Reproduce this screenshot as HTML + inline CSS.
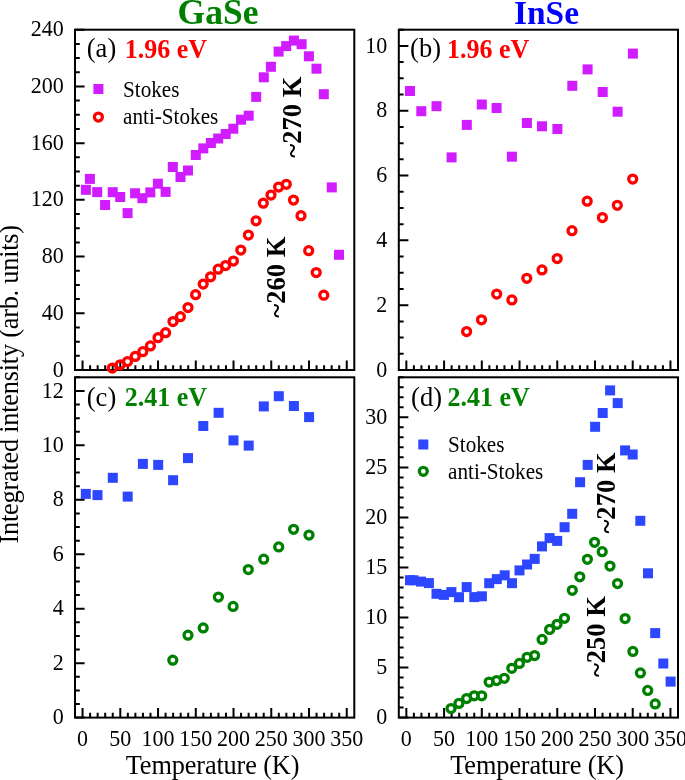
<!DOCTYPE html>
<html><head><meta charset="utf-8"><style>
html,body{margin:0;padding:0;background:#fff;}
body{width:685px;height:780px;overflow:hidden;}
svg{display:block;will-change:transform;}
text{font-family:"Liberation Serif",serif;}
</style></head><body>
<svg width="685" height="780" viewBox="0 0 685 780">
<rect width="685" height="780" fill="#fff"/>
<path d="M75.00,370.00h9.6M75.00,313.28h9.6M75.00,256.57h9.6M75.00,199.85h9.6M75.00,143.13h9.6M75.00,86.42h9.6M75.00,29.70h9.6M75.00,355.82h4.8M75.00,341.64h4.8M75.00,327.46h4.8M75.00,299.10h4.8M75.00,284.93h4.8M75.00,270.75h4.8M75.00,242.39h4.8M75.00,228.21h4.8M75.00,214.03h4.8M75.00,185.67h4.8M75.00,171.49h4.8M75.00,157.31h4.8M75.00,128.95h4.8M75.00,114.77h4.8M75.00,100.60h4.8M75.00,72.24h4.8M75.00,58.06h4.8M75.00,43.88h4.8M82.55,370.00v-9.6M120.29,370.00v-9.6M158.04,370.00v-9.6M195.78,370.00v-9.6M233.52,370.00v-9.6M271.26,370.00v-9.6M309.01,370.00v-9.6M346.75,370.00v-9.6M90.10,370.00v-4.8M97.65,370.00v-4.8M105.19,370.00v-4.8M112.74,370.00v-4.8M127.84,370.00v-4.8M135.39,370.00v-4.8M142.94,370.00v-4.8M150.49,370.00v-4.8M165.58,370.00v-4.8M173.13,370.00v-4.8M180.68,370.00v-4.8M188.23,370.00v-4.8M203.33,370.00v-4.8M210.88,370.00v-4.8M218.42,370.00v-4.8M225.97,370.00v-4.8M241.07,370.00v-4.8M248.62,370.00v-4.8M256.17,370.00v-4.8M263.72,370.00v-4.8M278.81,370.00v-4.8M286.36,370.00v-4.8M293.91,370.00v-4.8M301.46,370.00v-4.8M316.56,370.00v-4.8M324.11,370.00v-4.8M331.65,370.00v-4.8M339.20,370.00v-4.8" stroke="#000" stroke-width="2.0" fill="none"/>
<rect x="75.00" y="29.70" width="279.30" height="340.30" fill="none" stroke="#000" stroke-width="2.0"/>
<text transform="translate(63.80,319.88) scale(1,1.06)" font-size="22" text-anchor="end">40</text>
<text transform="translate(63.80,263.17) scale(1,1.06)" font-size="22" text-anchor="end">80</text>
<text transform="translate(63.80,206.45) scale(1,1.06)" font-size="22" text-anchor="end">120</text>
<text transform="translate(63.80,149.73) scale(1,1.06)" font-size="22" text-anchor="end">160</text>
<text transform="translate(63.80,93.02) scale(1,1.06)" font-size="22" text-anchor="end">200</text>
<text transform="translate(63.80,36.30) scale(1,1.06)" font-size="22" text-anchor="end">240</text>
<text transform="translate(63.80,376.60) scale(1,1.06)" font-size="22" text-anchor="end">0</text>
<path d="M75.00,717.60h9.6M75.00,663.15h9.6M75.00,608.70h9.6M75.00,554.26h9.6M75.00,499.81h9.6M75.00,445.36h9.6M75.00,390.91h9.6M75.00,703.99h4.8M75.00,690.38h4.8M75.00,676.76h4.8M75.00,649.54h4.8M75.00,635.93h4.8M75.00,622.32h4.8M75.00,595.09h4.8M75.00,581.48h4.8M75.00,567.87h4.8M75.00,540.64h4.8M75.00,527.03h4.8M75.00,513.42h4.8M75.00,486.20h4.8M75.00,472.58h4.8M75.00,458.97h4.8M75.00,431.75h4.8M75.00,418.14h4.8M75.00,404.52h4.8M75.00,377.30h4.8M82.55,717.60v-9.6M120.29,717.60v-9.6M158.04,717.60v-9.6M195.78,717.60v-9.6M233.52,717.60v-9.6M271.26,717.60v-9.6M309.01,717.60v-9.6M346.75,717.60v-9.6M90.10,717.60v-4.8M97.65,717.60v-4.8M105.19,717.60v-4.8M112.74,717.60v-4.8M127.84,717.60v-4.8M135.39,717.60v-4.8M142.94,717.60v-4.8M150.49,717.60v-4.8M165.58,717.60v-4.8M173.13,717.60v-4.8M180.68,717.60v-4.8M188.23,717.60v-4.8M203.33,717.60v-4.8M210.88,717.60v-4.8M218.42,717.60v-4.8M225.97,717.60v-4.8M241.07,717.60v-4.8M248.62,717.60v-4.8M256.17,717.60v-4.8M263.72,717.60v-4.8M278.81,717.60v-4.8M286.36,717.60v-4.8M293.91,717.60v-4.8M301.46,717.60v-4.8M316.56,717.60v-4.8M324.11,717.60v-4.8M331.65,717.60v-4.8M339.20,717.60v-4.8" stroke="#000" stroke-width="2.0" fill="none"/>
<rect x="75.00" y="377.30" width="279.30" height="340.30" fill="none" stroke="#000" stroke-width="2.0"/>
<text transform="translate(63.80,724.20) scale(1,1.06)" font-size="22" text-anchor="end">0</text>
<text transform="translate(63.80,669.75) scale(1,1.06)" font-size="22" text-anchor="end">2</text>
<text transform="translate(63.80,615.30) scale(1,1.06)" font-size="22" text-anchor="end">4</text>
<text transform="translate(63.80,560.86) scale(1,1.06)" font-size="22" text-anchor="end">6</text>
<text transform="translate(63.80,506.41) scale(1,1.06)" font-size="22" text-anchor="end">8</text>
<text transform="translate(63.80,451.96) scale(1,1.06)" font-size="22" text-anchor="end">10</text>
<text transform="translate(63.80,397.51) scale(1,1.06)" font-size="22" text-anchor="end">12</text>
<text transform="translate(82.55,745.80) scale(1,1.06)" font-size="22" text-anchor="middle">0</text>
<text transform="translate(120.29,745.80) scale(1,1.06)" font-size="22" text-anchor="middle">50</text>
<text transform="translate(158.04,745.80) scale(1,1.06)" font-size="22" text-anchor="middle">100</text>
<text transform="translate(195.78,745.80) scale(1,1.06)" font-size="22" text-anchor="middle">150</text>
<text transform="translate(233.52,745.80) scale(1,1.06)" font-size="22" text-anchor="middle">200</text>
<text transform="translate(271.26,745.80) scale(1,1.06)" font-size="22" text-anchor="middle">250</text>
<text transform="translate(309.01,745.80) scale(1,1.06)" font-size="22" text-anchor="middle">300</text>
<text transform="translate(346.75,745.80) scale(1,1.06)" font-size="22" text-anchor="middle">350</text>
<path d="M398.80,370.00h9.6M398.80,305.18h9.6M398.80,240.36h9.6M398.80,175.54h9.6M398.80,110.72h9.6M398.80,45.90h9.6M398.80,353.80h4.8M398.80,337.59h4.8M398.80,321.39h4.8M398.80,288.98h4.8M398.80,272.77h4.8M398.80,256.57h4.8M398.80,224.16h4.8M398.80,207.95h4.8M398.80,191.75h4.8M398.80,159.34h4.8M398.80,143.13h4.8M398.80,126.93h4.8M398.80,94.52h4.8M398.80,78.31h4.8M398.80,62.11h4.8M398.80,29.70h4.8M406.35,370.00v-9.6M444.08,370.00v-9.6M481.81,370.00v-9.6M519.54,370.00v-9.6M557.26,370.00v-9.6M594.99,370.00v-9.6M632.72,370.00v-9.6M670.45,370.00v-9.6M413.89,370.00v-4.8M421.44,370.00v-4.8M428.98,370.00v-4.8M436.53,370.00v-4.8M451.62,370.00v-4.8M459.17,370.00v-4.8M466.71,370.00v-4.8M474.26,370.00v-4.8M489.35,370.00v-4.8M496.90,370.00v-4.8M504.44,370.00v-4.8M511.99,370.00v-4.8M527.08,370.00v-4.8M534.63,370.00v-4.8M542.17,370.00v-4.8M549.72,370.00v-4.8M564.81,370.00v-4.8M572.36,370.00v-4.8M579.90,370.00v-4.8M587.45,370.00v-4.8M602.54,370.00v-4.8M610.09,370.00v-4.8M617.63,370.00v-4.8M625.18,370.00v-4.8M640.27,370.00v-4.8M647.82,370.00v-4.8M655.36,370.00v-4.8M662.91,370.00v-4.8" stroke="#000" stroke-width="2.0" fill="none"/>
<rect x="398.80" y="29.70" width="279.20" height="340.30" fill="none" stroke="#000" stroke-width="2.0"/>
<text transform="translate(387.30,376.60) scale(1,1.06)" font-size="22" text-anchor="end">0</text>
<text transform="translate(387.30,311.78) scale(1,1.06)" font-size="22" text-anchor="end">2</text>
<text transform="translate(387.30,246.96) scale(1,1.06)" font-size="22" text-anchor="end">4</text>
<text transform="translate(387.30,182.14) scale(1,1.06)" font-size="22" text-anchor="end">6</text>
<text transform="translate(387.30,117.32) scale(1,1.06)" font-size="22" text-anchor="end">8</text>
<text transform="translate(387.30,52.50) scale(1,1.06)" font-size="22" text-anchor="end">10</text>
<path d="M398.80,717.60h9.6M398.80,667.56h9.6M398.80,617.51h9.6M398.80,567.47h9.6M398.80,517.42h9.6M398.80,467.38h9.6M398.80,417.34h9.6M398.80,707.59h4.8M398.80,697.58h4.8M398.80,687.57h4.8M398.80,677.56h4.8M398.80,657.55h4.8M398.80,647.54h4.8M398.80,637.53h4.8M398.80,627.52h4.8M398.80,607.50h4.8M398.80,597.49h4.8M398.80,587.49h4.8M398.80,577.48h4.8M398.80,557.46h4.8M398.80,547.45h4.8M398.80,537.44h4.8M398.80,527.43h4.8M398.80,507.41h4.8M398.80,497.41h4.8M398.80,487.40h4.8M398.80,477.39h4.8M398.80,457.37h4.8M398.80,447.36h4.8M398.80,437.35h4.8M398.80,427.34h4.8M398.80,407.33h4.8M398.80,397.32h4.8M398.80,387.31h4.8M398.80,377.30h4.8M406.35,717.60v-9.6M444.08,717.60v-9.6M481.81,717.60v-9.6M519.54,717.60v-9.6M557.26,717.60v-9.6M594.99,717.60v-9.6M632.72,717.60v-9.6M670.45,717.60v-9.6M413.89,717.60v-4.8M421.44,717.60v-4.8M428.98,717.60v-4.8M436.53,717.60v-4.8M451.62,717.60v-4.8M459.17,717.60v-4.8M466.71,717.60v-4.8M474.26,717.60v-4.8M489.35,717.60v-4.8M496.90,717.60v-4.8M504.44,717.60v-4.8M511.99,717.60v-4.8M527.08,717.60v-4.8M534.63,717.60v-4.8M542.17,717.60v-4.8M549.72,717.60v-4.8M564.81,717.60v-4.8M572.36,717.60v-4.8M579.90,717.60v-4.8M587.45,717.60v-4.8M602.54,717.60v-4.8M610.09,717.60v-4.8M617.63,717.60v-4.8M625.18,717.60v-4.8M640.27,717.60v-4.8M647.82,717.60v-4.8M655.36,717.60v-4.8M662.91,717.60v-4.8" stroke="#000" stroke-width="2.0" fill="none"/>
<rect x="398.80" y="377.30" width="279.20" height="340.30" fill="none" stroke="#000" stroke-width="2.0"/>
<text transform="translate(387.30,724.20) scale(1,1.06)" font-size="22" text-anchor="end">0</text>
<text transform="translate(387.30,674.16) scale(1,1.06)" font-size="22" text-anchor="end">5</text>
<text transform="translate(387.30,624.11) scale(1,1.06)" font-size="22" text-anchor="end">10</text>
<text transform="translate(387.30,574.07) scale(1,1.06)" font-size="22" text-anchor="end">15</text>
<text transform="translate(387.30,524.02) scale(1,1.06)" font-size="22" text-anchor="end">20</text>
<text transform="translate(387.30,473.98) scale(1,1.06)" font-size="22" text-anchor="end">25</text>
<text transform="translate(387.30,423.94) scale(1,1.06)" font-size="22" text-anchor="end">30</text>
<text transform="translate(406.35,745.80) scale(1,1.06)" font-size="22" text-anchor="middle">0</text>
<text transform="translate(444.08,745.80) scale(1,1.06)" font-size="22" text-anchor="middle">50</text>
<text transform="translate(481.81,745.80) scale(1,1.06)" font-size="22" text-anchor="middle">100</text>
<text transform="translate(519.54,745.80) scale(1,1.06)" font-size="22" text-anchor="middle">150</text>
<text transform="translate(557.26,745.80) scale(1,1.06)" font-size="22" text-anchor="middle">200</text>
<text transform="translate(594.99,745.80) scale(1,1.06)" font-size="22" text-anchor="middle">250</text>
<text transform="translate(632.72,745.80) scale(1,1.06)" font-size="22" text-anchor="middle">300</text>
<text transform="translate(670.45,745.80) scale(1,1.06)" font-size="22" text-anchor="middle">350</text>
<rect x="80.90" y="184.80" width="10.0" height="10.0" fill="#D01CFF"/>
<rect x="84.90" y="173.90" width="10.0" height="10.0" fill="#D01CFF"/>
<rect x="92.20" y="187.10" width="10.0" height="10.0" fill="#D01CFF"/>
<rect x="100.10" y="200.00" width="10.0" height="10.0" fill="#D01CFF"/>
<rect x="107.70" y="187.20" width="10.0" height="10.0" fill="#D01CFF"/>
<rect x="115.20" y="192.00" width="10.0" height="10.0" fill="#D01CFF"/>
<rect x="122.60" y="208.10" width="10.0" height="10.0" fill="#D01CFF"/>
<rect x="130.10" y="188.30" width="10.0" height="10.0" fill="#D01CFF"/>
<rect x="137.40" y="193.20" width="10.0" height="10.0" fill="#D01CFF"/>
<rect x="145.30" y="187.40" width="10.0" height="10.0" fill="#D01CFF"/>
<rect x="152.90" y="178.70" width="10.0" height="10.0" fill="#D01CFF"/>
<rect x="160.60" y="186.90" width="10.0" height="10.0" fill="#D01CFF"/>
<rect x="167.80" y="162.00" width="10.0" height="10.0" fill="#D01CFF"/>
<rect x="175.50" y="172.00" width="10.0" height="10.0" fill="#D01CFF"/>
<rect x="183.00" y="165.50" width="10.0" height="10.0" fill="#D01CFF"/>
<rect x="190.80" y="150.00" width="10.0" height="10.0" fill="#D01CFF"/>
<rect x="198.30" y="143.40" width="10.0" height="10.0" fill="#D01CFF"/>
<rect x="205.90" y="138.00" width="10.0" height="10.0" fill="#D01CFF"/>
<rect x="213.20" y="133.50" width="10.0" height="10.0" fill="#D01CFF"/>
<rect x="220.70" y="129.00" width="10.0" height="10.0" fill="#D01CFF"/>
<rect x="228.30" y="123.70" width="10.0" height="10.0" fill="#D01CFF"/>
<rect x="236.00" y="114.70" width="10.0" height="10.0" fill="#D01CFF"/>
<rect x="243.70" y="110.70" width="10.0" height="10.0" fill="#D01CFF"/>
<rect x="251.20" y="91.90" width="10.0" height="10.0" fill="#D01CFF"/>
<rect x="258.80" y="72.30" width="10.0" height="10.0" fill="#D01CFF"/>
<rect x="265.90" y="61.80" width="10.0" height="10.0" fill="#D01CFF"/>
<rect x="273.60" y="46.60" width="10.0" height="10.0" fill="#D01CFF"/>
<rect x="281.20" y="41.10" width="10.0" height="10.0" fill="#D01CFF"/>
<rect x="288.90" y="35.60" width="10.0" height="10.0" fill="#D01CFF"/>
<rect x="296.60" y="39.20" width="10.0" height="10.0" fill="#D01CFF"/>
<rect x="303.90" y="51.30" width="10.0" height="10.0" fill="#D01CFF"/>
<rect x="311.50" y="63.70" width="10.0" height="10.0" fill="#D01CFF"/>
<rect x="318.80" y="89.20" width="10.0" height="10.0" fill="#D01CFF"/>
<rect x="326.80" y="182.40" width="10.0" height="10.0" fill="#D01CFF"/>
<rect x="334.00" y="249.80" width="10.0" height="10.0" fill="#D01CFF"/>
<circle cx="112.30" cy="368.00" r="4.0" fill="none" stroke="#FF0000" stroke-width="3.25"/>
<circle cx="120.20" cy="364.80" r="4.0" fill="none" stroke="#FF0000" stroke-width="3.25"/>
<circle cx="127.50" cy="361.60" r="4.0" fill="none" stroke="#FF0000" stroke-width="3.25"/>
<circle cx="135.20" cy="356.40" r="4.0" fill="none" stroke="#FF0000" stroke-width="3.25"/>
<circle cx="142.80" cy="351.70" r="4.0" fill="none" stroke="#FF0000" stroke-width="3.25"/>
<circle cx="150.40" cy="345.90" r="4.0" fill="none" stroke="#FF0000" stroke-width="3.25"/>
<circle cx="158.00" cy="337.70" r="4.0" fill="none" stroke="#FF0000" stroke-width="3.25"/>
<circle cx="165.60" cy="332.70" r="4.0" fill="none" stroke="#FF0000" stroke-width="3.25"/>
<circle cx="173.00" cy="321.50" r="4.0" fill="none" stroke="#FF0000" stroke-width="3.25"/>
<circle cx="180.40" cy="316.70" r="4.0" fill="none" stroke="#FF0000" stroke-width="3.25"/>
<circle cx="188.00" cy="307.50" r="4.0" fill="none" stroke="#FF0000" stroke-width="3.25"/>
<circle cx="195.60" cy="294.70" r="4.0" fill="none" stroke="#FF0000" stroke-width="3.25"/>
<circle cx="203.20" cy="284.10" r="4.0" fill="none" stroke="#FF0000" stroke-width="3.25"/>
<circle cx="210.60" cy="276.80" r="4.0" fill="none" stroke="#FF0000" stroke-width="3.25"/>
<circle cx="218.20" cy="269.20" r="4.0" fill="none" stroke="#FF0000" stroke-width="3.25"/>
<circle cx="225.60" cy="265.50" r="4.0" fill="none" stroke="#FF0000" stroke-width="3.25"/>
<circle cx="233.40" cy="261.00" r="4.0" fill="none" stroke="#FF0000" stroke-width="3.25"/>
<circle cx="240.80" cy="250.00" r="4.0" fill="none" stroke="#FF0000" stroke-width="3.25"/>
<circle cx="248.40" cy="235.10" r="4.0" fill="none" stroke="#FF0000" stroke-width="3.25"/>
<circle cx="256.10" cy="220.80" r="4.0" fill="none" stroke="#FF0000" stroke-width="3.25"/>
<circle cx="263.30" cy="203.20" r="4.0" fill="none" stroke="#FF0000" stroke-width="3.25"/>
<circle cx="271.00" cy="195.10" r="4.0" fill="none" stroke="#FF0000" stroke-width="3.25"/>
<circle cx="278.60" cy="187.00" r="4.0" fill="none" stroke="#FF0000" stroke-width="3.25"/>
<circle cx="286.30" cy="184.30" r="4.0" fill="none" stroke="#FF0000" stroke-width="3.25"/>
<circle cx="293.50" cy="200.10" r="4.0" fill="none" stroke="#FF0000" stroke-width="3.25"/>
<circle cx="301.00" cy="215.70" r="4.0" fill="none" stroke="#FF0000" stroke-width="3.25"/>
<circle cx="308.70" cy="250.70" r="4.0" fill="none" stroke="#FF0000" stroke-width="3.25"/>
<circle cx="316.20" cy="272.60" r="4.0" fill="none" stroke="#FF0000" stroke-width="3.25"/>
<circle cx="323.80" cy="295.20" r="4.0" fill="none" stroke="#FF0000" stroke-width="3.25"/>
<rect x="405.00" y="86.00" width="10.0" height="10.0" fill="#D01CFF"/>
<rect x="416.30" y="106.20" width="10.0" height="10.0" fill="#D01CFF"/>
<rect x="431.50" y="101.20" width="10.0" height="10.0" fill="#D01CFF"/>
<rect x="446.60" y="152.40" width="10.0" height="10.0" fill="#D01CFF"/>
<rect x="461.80" y="119.90" width="10.0" height="10.0" fill="#D01CFF"/>
<rect x="476.80" y="99.50" width="10.0" height="10.0" fill="#D01CFF"/>
<rect x="491.60" y="103.00" width="10.0" height="10.0" fill="#D01CFF"/>
<rect x="506.90" y="151.70" width="10.0" height="10.0" fill="#D01CFF"/>
<rect x="521.90" y="118.00" width="10.0" height="10.0" fill="#D01CFF"/>
<rect x="537.00" y="121.30" width="10.0" height="10.0" fill="#D01CFF"/>
<rect x="552.40" y="124.00" width="10.0" height="10.0" fill="#D01CFF"/>
<rect x="567.30" y="80.80" width="10.0" height="10.0" fill="#D01CFF"/>
<rect x="582.60" y="64.40" width="10.0" height="10.0" fill="#D01CFF"/>
<rect x="597.70" y="87.00" width="10.0" height="10.0" fill="#D01CFF"/>
<rect x="612.60" y="106.70" width="10.0" height="10.0" fill="#D01CFF"/>
<rect x="627.90" y="48.60" width="10.0" height="10.0" fill="#D01CFF"/>
<circle cx="466.60" cy="331.50" r="4.0" fill="none" stroke="#FF0000" stroke-width="3.25"/>
<circle cx="481.50" cy="319.80" r="4.0" fill="none" stroke="#FF0000" stroke-width="3.25"/>
<circle cx="496.70" cy="294.10" r="4.0" fill="none" stroke="#FF0000" stroke-width="3.25"/>
<circle cx="511.90" cy="299.90" r="4.0" fill="none" stroke="#FF0000" stroke-width="3.25"/>
<circle cx="526.80" cy="278.30" r="4.0" fill="none" stroke="#FF0000" stroke-width="3.25"/>
<circle cx="542.00" cy="269.90" r="4.0" fill="none" stroke="#FF0000" stroke-width="3.25"/>
<circle cx="557.20" cy="258.50" r="4.0" fill="none" stroke="#FF0000" stroke-width="3.25"/>
<circle cx="572.00" cy="230.70" r="4.0" fill="none" stroke="#FF0000" stroke-width="3.25"/>
<circle cx="587.20" cy="201.20" r="4.0" fill="none" stroke="#FF0000" stroke-width="3.25"/>
<circle cx="602.40" cy="217.60" r="4.0" fill="none" stroke="#FF0000" stroke-width="3.25"/>
<circle cx="617.30" cy="205.30" r="4.0" fill="none" stroke="#FF0000" stroke-width="3.25"/>
<circle cx="632.70" cy="179.00" r="4.0" fill="none" stroke="#FF0000" stroke-width="3.25"/>
<rect x="80.80" y="488.90" width="10.0" height="10.0" fill="#2D46FF"/>
<rect x="92.50" y="490.10" width="10.0" height="10.0" fill="#2D46FF"/>
<rect x="107.80" y="472.80" width="10.0" height="10.0" fill="#2D46FF"/>
<rect x="122.70" y="491.60" width="10.0" height="10.0" fill="#2D46FF"/>
<rect x="137.90" y="458.90" width="10.0" height="10.0" fill="#2D46FF"/>
<rect x="153.20" y="459.90" width="10.0" height="10.0" fill="#2D46FF"/>
<rect x="168.10" y="475.20" width="10.0" height="10.0" fill="#2D46FF"/>
<rect x="183.00" y="453.10" width="10.0" height="10.0" fill="#2D46FF"/>
<rect x="198.30" y="421.00" width="10.0" height="10.0" fill="#2D46FF"/>
<rect x="213.60" y="407.80" width="10.0" height="10.0" fill="#2D46FF"/>
<rect x="228.50" y="435.40" width="10.0" height="10.0" fill="#2D46FF"/>
<rect x="243.70" y="440.60" width="10.0" height="10.0" fill="#2D46FF"/>
<rect x="258.80" y="401.40" width="10.0" height="10.0" fill="#2D46FF"/>
<rect x="273.80" y="391.20" width="10.0" height="10.0" fill="#2D46FF"/>
<rect x="288.90" y="401.00" width="10.0" height="10.0" fill="#2D46FF"/>
<rect x="304.10" y="412.10" width="10.0" height="10.0" fill="#2D46FF"/>
<circle cx="172.80" cy="660.20" r="4.0" fill="none" stroke="#008000" stroke-width="3.25"/>
<circle cx="188.00" cy="635.20" r="4.0" fill="none" stroke="#008000" stroke-width="3.25"/>
<circle cx="203.20" cy="627.90" r="4.0" fill="none" stroke="#008000" stroke-width="3.25"/>
<circle cx="218.40" cy="597.10" r="4.0" fill="none" stroke="#008000" stroke-width="3.25"/>
<circle cx="233.10" cy="606.40" r="4.0" fill="none" stroke="#008000" stroke-width="3.25"/>
<circle cx="248.30" cy="569.50" r="4.0" fill="none" stroke="#008000" stroke-width="3.25"/>
<circle cx="263.70" cy="559.20" r="4.0" fill="none" stroke="#008000" stroke-width="3.25"/>
<circle cx="278.70" cy="546.90" r="4.0" fill="none" stroke="#008000" stroke-width="3.25"/>
<circle cx="293.60" cy="529.30" r="4.0" fill="none" stroke="#008000" stroke-width="3.25"/>
<circle cx="309.00" cy="535.00" r="4.0" fill="none" stroke="#008000" stroke-width="3.25"/>
<rect x="405.00" y="575.20" width="10.0" height="10.0" fill="#2D46FF"/>
<rect x="408.60" y="575.30" width="10.0" height="10.0" fill="#2D46FF"/>
<rect x="416.00" y="576.60" width="10.0" height="10.0" fill="#2D46FF"/>
<rect x="423.90" y="578.10" width="10.0" height="10.0" fill="#2D46FF"/>
<rect x="431.50" y="588.80" width="10.0" height="10.0" fill="#2D46FF"/>
<rect x="438.90" y="589.90" width="10.0" height="10.0" fill="#2D46FF"/>
<rect x="446.40" y="587.10" width="10.0" height="10.0" fill="#2D46FF"/>
<rect x="454.00" y="592.20" width="10.0" height="10.0" fill="#2D46FF"/>
<rect x="461.70" y="582.10" width="10.0" height="10.0" fill="#2D46FF"/>
<rect x="469.30" y="592.10" width="10.0" height="10.0" fill="#2D46FF"/>
<rect x="476.90" y="591.30" width="10.0" height="10.0" fill="#2D46FF"/>
<rect x="484.20" y="578.20" width="10.0" height="10.0" fill="#2D46FF"/>
<rect x="491.80" y="574.10" width="10.0" height="10.0" fill="#2D46FF"/>
<rect x="499.70" y="570.30" width="10.0" height="10.0" fill="#2D46FF"/>
<rect x="507.00" y="578.20" width="10.0" height="10.0" fill="#2D46FF"/>
<rect x="514.50" y="565.40" width="10.0" height="10.0" fill="#2D46FF"/>
<rect x="522.10" y="559.50" width="10.0" height="10.0" fill="#2D46FF"/>
<rect x="529.70" y="553.90" width="10.0" height="10.0" fill="#2D46FF"/>
<rect x="537.00" y="541.40" width="10.0" height="10.0" fill="#2D46FF"/>
<rect x="544.60" y="533.10" width="10.0" height="10.0" fill="#2D46FF"/>
<rect x="552.20" y="535.90" width="10.0" height="10.0" fill="#2D46FF"/>
<rect x="559.60" y="522.20" width="10.0" height="10.0" fill="#2D46FF"/>
<rect x="567.20" y="508.80" width="10.0" height="10.0" fill="#2D46FF"/>
<rect x="575.10" y="477.20" width="10.0" height="10.0" fill="#2D46FF"/>
<rect x="582.70" y="459.90" width="10.0" height="10.0" fill="#2D46FF"/>
<rect x="590.10" y="421.80" width="10.0" height="10.0" fill="#2D46FF"/>
<rect x="597.70" y="408.00" width="10.0" height="10.0" fill="#2D46FF"/>
<rect x="605.10" y="385.40" width="10.0" height="10.0" fill="#2D46FF"/>
<rect x="612.70" y="398.10" width="10.0" height="10.0" fill="#2D46FF"/>
<rect x="620.10" y="445.40" width="10.0" height="10.0" fill="#2D46FF"/>
<rect x="627.70" y="449.50" width="10.0" height="10.0" fill="#2D46FF"/>
<rect x="635.30" y="515.80" width="10.0" height="10.0" fill="#2D46FF"/>
<rect x="643.00" y="568.30" width="10.0" height="10.0" fill="#2D46FF"/>
<rect x="650.20" y="628.10" width="10.0" height="10.0" fill="#2D46FF"/>
<rect x="658.30" y="658.50" width="10.0" height="10.0" fill="#2D46FF"/>
<rect x="665.60" y="676.60" width="10.0" height="10.0" fill="#2D46FF"/>
<circle cx="451.00" cy="708.60" r="4.0" fill="none" stroke="#008000" stroke-width="3.25"/>
<circle cx="458.90" cy="703.40" r="4.0" fill="none" stroke="#008000" stroke-width="3.25"/>
<circle cx="466.60" cy="698.60" r="4.0" fill="none" stroke="#008000" stroke-width="3.25"/>
<circle cx="474.20" cy="695.80" r="4.0" fill="none" stroke="#008000" stroke-width="3.25"/>
<circle cx="481.70" cy="695.80" r="4.0" fill="none" stroke="#008000" stroke-width="3.25"/>
<circle cx="489.10" cy="682.00" r="4.0" fill="none" stroke="#008000" stroke-width="3.25"/>
<circle cx="496.60" cy="680.60" r="4.0" fill="none" stroke="#008000" stroke-width="3.25"/>
<circle cx="504.30" cy="678.30" r="4.0" fill="none" stroke="#008000" stroke-width="3.25"/>
<circle cx="511.80" cy="668.30" r="4.0" fill="none" stroke="#008000" stroke-width="3.25"/>
<circle cx="519.40" cy="663.40" r="4.0" fill="none" stroke="#008000" stroke-width="3.25"/>
<circle cx="527.10" cy="657.30" r="4.0" fill="none" stroke="#008000" stroke-width="3.25"/>
<circle cx="534.60" cy="655.50" r="4.0" fill="none" stroke="#008000" stroke-width="3.25"/>
<circle cx="542.10" cy="639.40" r="4.0" fill="none" stroke="#008000" stroke-width="3.25"/>
<circle cx="549.60" cy="629.40" r="4.0" fill="none" stroke="#008000" stroke-width="3.25"/>
<circle cx="557.00" cy="624.30" r="4.0" fill="none" stroke="#008000" stroke-width="3.25"/>
<circle cx="564.50" cy="618.30" r="4.0" fill="none" stroke="#008000" stroke-width="3.25"/>
<circle cx="572.30" cy="590.30" r="4.0" fill="none" stroke="#008000" stroke-width="3.25"/>
<circle cx="579.80" cy="576.80" r="4.0" fill="none" stroke="#008000" stroke-width="3.25"/>
<circle cx="587.40" cy="559.30" r="4.0" fill="none" stroke="#008000" stroke-width="3.25"/>
<circle cx="594.60" cy="542.30" r="4.0" fill="none" stroke="#008000" stroke-width="3.25"/>
<circle cx="602.20" cy="551.70" r="4.0" fill="none" stroke="#008000" stroke-width="3.25"/>
<circle cx="610.00" cy="566.00" r="4.0" fill="none" stroke="#008000" stroke-width="3.25"/>
<circle cx="617.50" cy="583.50" r="4.0" fill="none" stroke="#008000" stroke-width="3.25"/>
<circle cx="625.10" cy="618.50" r="4.0" fill="none" stroke="#008000" stroke-width="3.25"/>
<circle cx="632.90" cy="651.40" r="4.0" fill="none" stroke="#008000" stroke-width="3.25"/>
<circle cx="640.40" cy="672.90" r="4.0" fill="none" stroke="#008000" stroke-width="3.25"/>
<circle cx="647.70" cy="690.40" r="4.0" fill="none" stroke="#008000" stroke-width="3.25"/>
<circle cx="655.20" cy="703.90" r="4.0" fill="none" stroke="#008000" stroke-width="3.25"/>
<rect x="93.40" y="84.00" width="10.0" height="10.0" fill="#D01CFF"/>
<circle cx="98.40" cy="117.00" r="4.0" fill="none" stroke="#FF0000" stroke-width="3.25"/>
<text transform="translate(123.00,96.50) scale(1,1.04)" font-size="21.2">Stokes</text>
<text transform="translate(123.00,124.00) scale(1,1.04)" font-size="21.2">anti-Stokes</text>
<rect x="418.30" y="439.50" width="10.0" height="10.0" fill="#2D46FF"/>
<circle cx="423.30" cy="471.30" r="4.0" fill="none" stroke="#008000" stroke-width="3.25"/>
<text transform="translate(448.00,452.00) scale(1,1.04)" font-size="21.2">Stokes</text>
<text transform="translate(448.00,479.00) scale(1,1.04)" font-size="21.2">anti-Stokes</text>
<text transform="translate(86.80,56.70)" font-size="26.5">(a)</text>
<text transform="translate(410.10,56.70)" font-size="26.5">(b)</text>
<text transform="translate(86.80,405.50)" font-size="26.5">(c)</text>
<text transform="translate(411.10,405.50)" font-size="26.5">(d)</text>
<text transform="translate(124.80,57.60) scale(1,1.03)" font-size="26" font-weight="bold" fill="#FF0000">1.96 eV</text>
<text transform="translate(447.00,57.60) scale(1,1.03)" font-size="26" font-weight="bold" fill="#FF0000">1.96 eV</text>
<text transform="translate(124.70,405.70) scale(1,1.03)" font-size="26" font-weight="bold" fill="#008000">2.41 eV</text>
<text transform="translate(447.50,405.70) scale(1,1.03)" font-size="26" font-weight="bold" fill="#008000">2.41 eV</text>
<text transform="translate(218.00,24.00) scale(1,1.03)" font-size="35.5" text-anchor="middle" font-weight="bold" fill="#008000">GaSe</text>
<text transform="translate(546.50,24.00) scale(1,1.03)" font-size="33.4" text-anchor="middle" font-weight="bold" fill="#0000FF">InSe</text>
<text transform="translate(301.00,157.70) rotate(-90) scale(1,1.03)" font-size="26.6" font-weight="bold">~270 K</text>
<text transform="translate(285.40,317.70) rotate(-90) scale(1,1.03)" font-size="26.6" font-weight="bold">~260 K</text>
<text transform="translate(615.30,533.50) rotate(-90) scale(1,1.03)" font-size="26.6" font-weight="bold">~270 K</text>
<text transform="translate(605.00,677.10) rotate(-90) scale(1,1.03)" font-size="26.6" font-weight="bold">~250 K</text>
<text transform="translate(18.20,543.50) rotate(-90) scale(1,1.04)" font-size="26.3" textLength="318.6" lengthAdjust="spacing">Integrated intensity (arb. units)</text>
<text transform="translate(212.60,774.40) scale(1,1.04)" font-size="26.3" text-anchor="middle" textLength="173.7" lengthAdjust="spacing">Temperature (K)</text>
<text transform="translate(537.10,774.40) scale(1,1.04)" font-size="26.3" text-anchor="middle" textLength="173.7" lengthAdjust="spacing">Temperature (K)</text>
</svg>
</body></html>
